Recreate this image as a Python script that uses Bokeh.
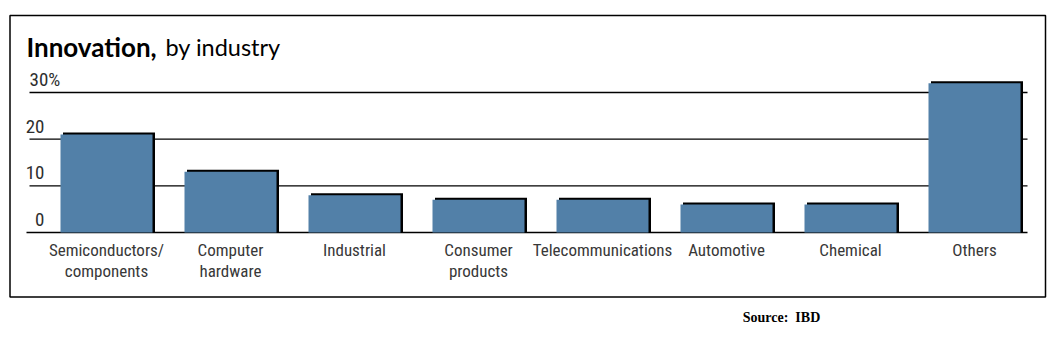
from bokeh.plotting import figure
from bokeh.models import Range1d, ColumnDataSource
from bokeh.core.properties import value
from bokeh.embed import file_html
from bokeh.resources import INLINE

# ---- data ----
categories = ["Semiconductors/\ncomponents", "Computer\nhardware", "Industrial",
              "Consumer\nproducts", "Telecommunications", "Automotive", "Chemical", "Others"]
shares = [21, 13, 8, 7, 7, 6, 6, 32]
tick_values = [0, 10, 20, 30]
tick_labels = ["0", "10", "20", "30%"]
title_bold = "Innovation,"
title_rest = "by industry"
source_note = "Source:\u00a0\u00a0IBD"

W, H = 1058, 351
# pixel geometry -> data mapping (bar pitch 124 px, 10 units = 46.67 px)
PX0, PITCH = 106.0, 124.0
PY0, UNIT = 232.0, 46.667 / 10.0

def dx(px):
    return (px - PX0) / PITCH

def dy(py):
    return (PY0 - py) / UNIT

p = figure(width=W, height=H, output_backend="svg", toolbar_location=None,
           x_range=Range1d(dx(0), dx(W)), y_range=Range1d(dy(H), dy(0)),
           min_border=0, outline_line_color=None, background_fill_color="white",
           border_fill_color="white")
p.axis.visible = False
p.grid.visible = False

# outer frame box
p.quad(left=[dx(9.5)], right=[dx(1045)], top=[dy(15)], bottom=[dy(296.5)],
       fill_color=None, line_color="black", line_width=1.5)

# gridlines
xs = list(range(len(categories)))
grid_top = [v for v in tick_values if v > 0]
p.segment(x0=[dx(29)] * len(grid_top), x1=[dx(1027)] * len(grid_top),
          y0=grid_top, y1=grid_top, line_color="black", line_width=1.4)
p.segment(x0=[dx(26)], x1=[dx(1027)], y0=[0], y1=[0], line_color="black", line_width=1.6)

# bars with drop shadow
bw = 92 / PITCH
sx = 2.5 / PITCH
sy = 2.0 / UNIT
p.vbar(x=[x + sx for x in xs], top=[s + sy for s in shares], bottom=0, width=bw,
       fill_color="black", line_color=None)
p.vbar(x=xs, top=shares, bottom=0, width=bw, fill_color="#5280a8", line_color=None)

cond = value("'Roboto Condensed', 'Liberation Sans Narrow', 'DejaVu Sans Condensed'")

# y tick labels
tick_x = [dx(44) if not l.endswith("%") else dx(29) for l in tick_labels]
tick_align = ["right" if not l.endswith("%") else "left" for l in tick_labels]
src = ColumnDataSource(dict(x=tick_x, y=[v + 13 / UNIT for v in tick_values],
                            t=tick_labels, a=tick_align))
p.text(x="x", y="y", text="t", text_align="a", source=src, text_baseline="middle",
       text_font=cond, text_font_size="19px", text_color="#2e2e2e")

# category labels
p.text(x=xs, y=[dy(239)] * len(xs), text=categories, text_align="center",
       text_baseline="top", text_font=cond, text_font_size="17px",
       text_color="#383838", text_line_height=1.05)

# title
p.text(x=[dx(26)], y=[dy(46)], text=[title_bold], text_font=value("Lato"),
       text_font_style="bold", text_font_size="26px", text_color="black",
       text_baseline="middle")
p.text(x=[dx(165)], y=[dy(46)], text=[title_rest], text_font=value("Lato"),
       text_font_size="23.5px", text_color="black", text_baseline="middle")

# source
p.text(x=[dx(781)], y=[dy(317)], text=[source_note], text_align="center",
       text_baseline="middle", text_font=value("Liberation Serif"),
       text_font_style="bold", text_font_size="14px", text_color="black")

open("out.html", "w").write(file_html(p, INLINE))
